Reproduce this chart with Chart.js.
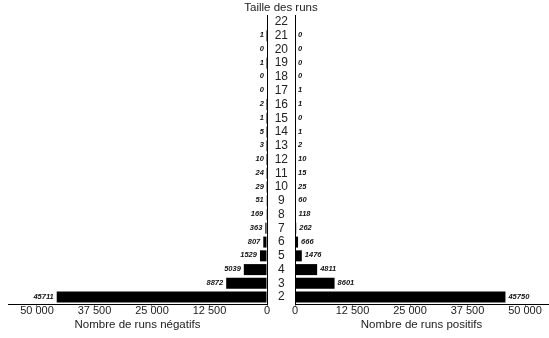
<!DOCTYPE html>
<html>
<head>
<meta charset="utf-8">
<script src="https://cdn.jsdelivr.net/npm/chart.js@4/dist/chart.umd.min.js"></script>
<style>
    body { margin: 0; background: #fff; }
    #wrap { position: relative; width: 549px; height: 338px; overflow: hidden; }
    #wrap canvas { position: absolute; top: 0; }
    #titre { position: absolute; top: 0; left: 221px; width: 120px; text-align: center;
             font: 11.5px "Liberation Sans", Arial, sans-serif; line-height: 14px; color: #222; }
</style>
</head>
<body>
<div id="wrap">
    <canvas id="negChart" width="276" height="338" style="left:0"></canvas>
    <canvas id="posChart" width="282" height="338" style="left:267px"></canvas>
    <div id="titre">Taille des runs</div>
</div>
<script>
var runSizes = ['2', '3', '4', '5', '6', '7', '8', '9', '10', '11', '12',
    '13', '14', '15', '16', '17', '18', '19', '20', '21', '22'];
var negativeRuns = [45711, 8872, 5039, 1529, 807, 363, 169, 51, 29, 24, 10,
    3, 5, 1, 2, 0, 0, 1, 0, 1, null];
var positiveRuns = [45750, 8601, 4811, 1476, 666, 262, 118, 60, 25, 15, 10,
    2, 1, 0, 1, 1, 0, 0, 0, 0, null];
var tickValues = [0, 12500, 25000, 37500, 50000];

Chart.defaults.font.family = '"Liberation Sans", Arial, sans-serif';
Chart.defaults.color = '#222';

function formatThousands(v) {
    return String(v).replace(/\B(?=(\d{3})+(?!\d))/g, ' ');
}

// small italic values at the end of each bar
var barLabels = {
    id: 'barLabels',
    afterDatasetsDraw: function (chart, args, opts) {
        var ctx = chart.ctx;
        var meta = chart.getDatasetMeta(0);
        var values = chart.data.datasets[0].data;
        ctx.save();
        ctx.font = 'italic bold 7.5px "Liberation Sans", Arial, sans-serif';
        ctx.fillStyle = '#111';
        ctx.textBaseline = 'middle';
        ctx.textAlign = opts.side == 'left' ? 'right' : 'left';
        meta.data.forEach(function (bar, i) {
            if (values[i] === null) {
                return;
            }
            var x = opts.side == 'left' ? bar.x - 3 : bar.x + 3;
            ctx.fillText(String(values[i]), x, bar.y - 0.5);
        });
        ctx.restore();
    }
};

function xScale(max, reverse, title) {
    return {
        type: 'linear',
        position: 'bottom',
        min: 0,
        max: max,
        reverse: reverse,
        afterBuildTicks: function (s) {
            s.ticks = tickValues.map(function (v) { return {value: v}; });
        },
        afterFit: function (s) { s.height = 34; },
        grid: {drawOnChartArea: false, drawTicks: true, tickLength: 3, color: '#888'},
        border: {display: true, color: '#000', width: 1},
        ticks: {
            padding: -2,
            maxRotation: 0,
            font: {size: 11, lineHeight: 1},
            callback: function (v) { return formatThousands(v); }
        },
        title: {display: true, text: title, font: {size: 11.5}, padding: {top: 0, bottom: 6}}
    };
}

var negChart = new Chart(document.getElementById('negChart'), {
    type: 'bar',
    plugins: [barLabels],
    data: {
        labels: runSizes,
        datasets: [{
            data: negativeRuns,
            backgroundColor: '#000',
            borderWidth: 0,
            barPercentage: 0.8,
            categoryPercentage: 1
        }]
    },
    options: {
        indexAxis: 'y',
        responsive: false,
        animation: false,
        layout: {padding: {left: 8, right: 9, top: 15, bottom: 0}},
        plugins: {legend: {display: false}, tooltip: {enabled: false}, barLabels: {side: 'left'}},
        scales: {
            x: xScale(56300, true, 'Nombre de runs négatifs'),
            y: {
                position: 'right',
                reverse: true,
                afterFit: function (s) { s.width = 0; },
                grid: {display: false, drawTicks: false, tickLength: 0},
                border: {display: true, color: '#000', width: 1},
                ticks: {display: false}
            }
        }
    }
});

var posChart = new Chart(document.getElementById('posChart'), {
    type: 'bar',
    plugins: [barLabels],
    data: {
        labels: runSizes,
        datasets: [{
            data: positiveRuns,
            backgroundColor: '#000',
            borderWidth: 0,
            barPercentage: 0.8,
            categoryPercentage: 1
        }]
    },
    options: {
        indexAxis: 'y',
        responsive: false,
        animation: false,
        layout: {padding: {left: 0, right: 1, top: 15, bottom: 0}},
        plugins: {legend: {display: false}, tooltip: {enabled: false}, barLabels: {side: 'right'}},
        scales: {
            x: xScale(55000, false, 'Nombre de runs positifs'),
            y: {
                position: 'left',
                reverse: true,
                afterFit: function (s) { s.width = 28; },
                grid: {display: false, drawTicks: false, tickLength: 0},
                border: {display: true, color: '#000', width: 1},
                ticks: {crossAlign: 'center', padding: 7, autoSkip: false, font: {size: 12}, color: '#222'}
            }
        }
    }
});
</script>
</body>
</html>
